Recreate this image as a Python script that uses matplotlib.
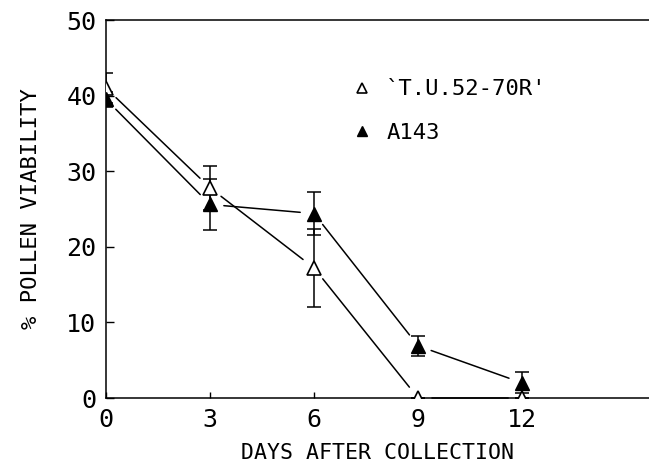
import matplotlib
matplotlib.use("Agg")
import matplotlib.pyplot as plt

days = [0, 3, 6, 9, 12]
tu_mean = [41.0, 27.8, 17.2, 0.0, 0.0]
tu_err = [2.0, 2.9, 5.2, 0.0, 0.0]
a143_mean = [39.5, 25.6, 24.4, 6.9, 2.0]
a143_err = [1.0, 3.4, 2.8, 1.3, 1.4]
xticks = [0, 3, 6, 9, 12]
yticks = [0, 10, 20, 30, 40, 50]
labels = ["`T.U.52-70R'", "A143"]

plt.rcParams['font.family'] = ['DejaVu Sans Mono']

fig = plt.figure(figsize=(6.49, 4.76), dpi=100)
ax = fig.add_axes([106/649, 1-398/476, 1-106/649, (398-20)/476])
ax.set_xlim(0, 15.66)
ax.set_ylim(0, 50)

lw = 1.1

def connect(xs, ys):
    for i in range(len(xs) - 1):
        ax.annotate('', xy=(xs[i+1], ys[i+1]), xytext=(xs[i], ys[i]),
                    xycoords='data', textcoords='data',
                    arrowprops=dict(arrowstyle='-', color='black', lw=lw,
                                    shrinkA=10, shrinkB=10),
                    annotation_clip=False)

connect(days, tu_mean)
connect(days, a143_mean)

ax.errorbar(days, tu_mean, yerr=tu_err, fmt='none', ecolor='black',
            elinewidth=lw, capsize=4.7, capthick=lw)
ax.errorbar(days, a143_mean, yerr=a143_err, fmt='none', ecolor='black',
            elinewidth=lw, capsize=4.7, capthick=lw)
h1, = ax.plot(days, tu_mean, linestyle='none', marker='^', ms=10,
              mfc='white', mec='black', mew=1.2, zorder=5)
h2, = ax.plot(days, a143_mean, linestyle='none', marker='^', ms=10,
              mfc='black', mec='black', mew=1.0, zorder=6)

leg = ax.legend([h1, h2], labels, loc='upper left',
                bbox_to_anchor=(0.418, 0.896), frameon=False,
                fontsize=16, handlelength=0.8, handletextpad=0.7,
                labelspacing=1.05, markerscale=0.75)

ax.spines['right'].set_visible(False)
for s in ['left', 'bottom', 'top']:
    ax.spines[s].set_linewidth(1.1)

ax.set_xticks(xticks)
ax.set_yticks(yticks)
ax.tick_params(direction='in', length=6, width=1.0, labelsize=18, pad=7)
ax.tick_params(axis='x', length=4)

ax.set_xlabel('DAYS AFTER COLLECTION', fontsize=15.5, labelpad=8)
ax.set_ylabel('% POLLEN VIABILITY', fontsize=16, labelpad=18)

fig.savefig('out.png', dpi=100)
